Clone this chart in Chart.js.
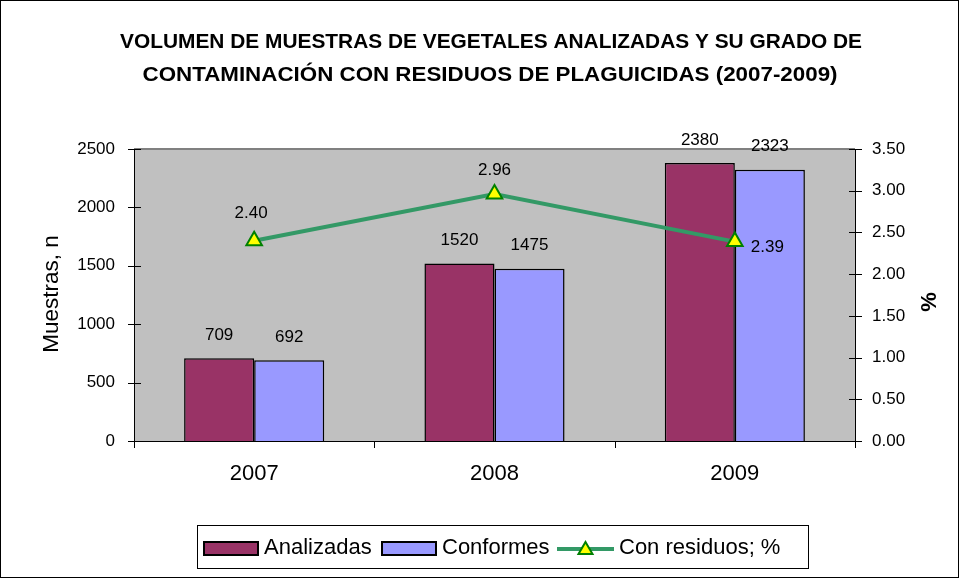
<!DOCTYPE html>
<html>
<head>
<meta charset="utf-8">
<script src="https://cdn.jsdelivr.net/npm/chart.js@4/dist/chart.umd.min.js"></script>
<style>
html,body{margin:0;padding:0;background:#fff;}
#wrap{width:960px;height:579px;position:relative;}
</style>
</head>
<body>
<div id="wrap"><canvas id="c" width="960" height="579"></canvas></div>
<script>
const categories = ['2007', '2008', '2009'];
const analizadas = [709, 1520, 2380];
const conformes = [692, 1475, 2323];
const conResiduos = [2.40, 2.96, 2.39];
const seriesNames = ['Analizadas', 'Conformes', 'Con residuos; %'];
const titleLines = ['VOLUMEN DE MUESTRAS DE VEGETALES ANALIZADAS Y SU GRADO DE', 'CONTAMINACIÓN CON RESIDUOS DE PLAGUICIDAS (2007-2009)'];
const leftAxisTitle = 'Muestras, n';
const rightAxisTitle = '%';

const FONT = '"Liberation Sans", Arial, sans-serif';
const COL_A = '#993366', COL_C = '#9999FF', COL_L = '#339966', COL_M = '#008000', COL_MF = '#FFFF00';

function fitText(ctx, text, cx, cy, targetW) {
  const w = ctx.measureText(text).width;
  const s = targetW / w;
  ctx.save();
  ctx.translate(cx, cy);
  ctx.scale(s, 1);
  ctx.fillText(text, 0, 0);
  ctx.restore();
}

const decor = {
  id: 'decor',
  beforeDraw(chart) {
    const ctx = chart.ctx, a = chart.chartArea;
    ctx.save();
    ctx.fillStyle = '#fff';
    ctx.fillRect(0, 0, chart.width, chart.height);
    ctx.fillStyle = '#C0C0C0';
    ctx.fillRect(a.left, a.top, a.right - a.left, a.bottom - a.top);
    ctx.strokeStyle = '#808080';
    ctx.lineWidth = 2;
    ctx.beginPath(); ctx.moveTo(a.left, a.top); ctx.lineTo(a.right, a.top); ctx.stroke();
    ctx.restore();
  },
  afterDraw(chart) {
    const ctx = chart.ctx, a = chart.chartArea;
    ctx.save();
    ctx.strokeStyle = '#000'; ctx.lineWidth = 1;
    ctx.beginPath();
    ctx.moveTo(a.left + 0.5, a.top); ctx.lineTo(a.left + 0.5, a.bottom + 0.5);
    ctx.lineTo(a.right + 0.5, a.bottom + 0.5);
    ctx.moveTo(a.right + 0.5, a.top); ctx.lineTo(a.right + 0.5, a.bottom + 0.5);
    const y = chart.scales.y, y1 = chart.scales.y1;
    y.ticks.forEach(t => { const p = Math.round(y.getPixelForValue(t.value)) + 0.5; ctx.moveTo(a.left - 6, p); ctx.lineTo(a.left + 7, p); });
    y1.ticks.forEach(t => { const p = Math.round(y1.getPixelForValue(t.value)) + 0.5; ctx.moveTo(a.right - 6, p); ctx.lineTo(a.right + 7, p); });
    const n = categories.length;
    for (let i = 0; i <= n; i++) {
      const p = Math.round(a.left + (a.right - a.left) * i / n) + 0.5;
      ctx.moveTo(p, a.bottom); ctx.lineTo(p, a.bottom + 7);
    }
    ctx.stroke();

    ctx.strokeRect(0.5, 0.5, chart.width - 2, chart.height - 2);

    // title
    ctx.fillStyle = '#000';
    ctx.font = 'bold 21px ' + FONT;
    ctx.textAlign = 'center'; ctx.textBaseline = 'middle';
    fitText(ctx, titleLines[0], 491, 42, 742);
    fitText(ctx, titleLines[1], 490, 75, 695);

    // axis titles
    ctx.save();
    ctx.translate(52, 294); ctx.rotate(-Math.PI / 2);
    ctx.font = '22.5px ' + FONT;
    ctx.fillText(leftAxisTitle, 0, 0);
    ctx.restore();
    ctx.save();
    ctx.translate(930, 302); ctx.rotate(-Math.PI / 2);
    ctx.font = 'bold 22px ' + FONT;
    ctx.fillText(rightAxisTitle, 0, 0);
    ctx.restore();

    // bar labels
    ctx.font = '17px ' + FONT;
    [0, 1].forEach(di => {
      const meta = chart.getDatasetMeta(di);
      meta.data.forEach((el, i) => {
        ctx.fillText(String(chart.data.datasets[di].data[i]), el.x, el.y - 23);
      });
    });
    // line labels
    const lm = chart.getDatasetMeta(2);
    lm.data.forEach((el, i) => {
      const v = conResiduos[i].toFixed(2);
      if (i === 2) { ctx.textAlign = 'left'; ctx.fillText(v, el.x + 16, el.y + 6); }
      else if (i === 0) { ctx.textAlign = 'center'; ctx.fillText(v, el.x - 3, el.y - 27); }
      else { ctx.textAlign = 'center'; ctx.fillText(v, el.x, el.y - 24); }
    });

    // legend
    ctx.textAlign = 'left';
    ctx.strokeStyle = '#000'; ctx.lineWidth = 1;
    ctx.strokeRect(197.5, 525.5, 611, 43);
    const ly = 548;
    ctx.font = '22px ' + FONT;
    ctx.fillStyle = COL_A; ctx.fillRect(204, ly - 6, 54, 13);
    ctx.strokeStyle = '#000'; ctx.lineWidth = 2; ctx.strokeRect(204, ly - 6, 54, 13);
    ctx.fillStyle = '#000'; ctx.fillText(seriesNames[0], 264, ly);
    ctx.fillStyle = COL_C; ctx.fillRect(382, ly - 6, 54, 13);
    ctx.strokeRect(382, ly - 6, 54, 13);
    ctx.fillStyle = '#000'; ctx.fillText(seriesNames[1], 442, ly);
    ctx.strokeStyle = COL_L; ctx.lineWidth = 4;
    ctx.beginPath(); ctx.moveTo(557, ly + 1); ctx.lineTo(614, ly + 1); ctx.stroke();
    ctx.fillStyle = COL_MF; ctx.strokeStyle = COL_M; ctx.lineWidth = 2;
    ctx.beginPath(); ctx.moveTo(585.5, ly - 6); ctx.lineTo(592.5, ly + 6); ctx.lineTo(578.5, ly + 6); ctx.closePath(); ctx.fill(); ctx.stroke();
    ctx.fillStyle = '#000'; ctx.fillText(seriesNames[2], 619, ly);
    ctx.restore();
  }
};

new Chart(document.getElementById('c'), {
  data: {
    labels: categories,
    datasets: [
      { type: 'bar', label: seriesNames[0], data: analizadas, backgroundColor: COL_A, borderColor: '#000', borderWidth: 1.5, yAxisID: 'y', order: 2, categoryPercentage: 0.583, barPercentage: 1.0 },
      { type: 'bar', label: seriesNames[1], data: conformes, backgroundColor: COL_C, borderColor: '#000', borderWidth: 1.5, yAxisID: 'y', order: 2, categoryPercentage: 0.583, barPercentage: 1.0 },
      { type: 'line', label: seriesNames[2], data: conResiduos, borderColor: COL_L, borderWidth: 4, pointStyle: 'triangle', pointRadius: 9, pointBackgroundColor: COL_MF, pointBorderColor: COL_M, pointBorderWidth: 2, yAxisID: 'y1', order: 0, tension: 0 }
    ]
  },
  options: {
    responsive: false, animation: false,
    layout: { padding: { top: 149, bottom: 98, left: 0, right: 0 } },
    plugins: { legend: { display: false }, title: { display: false }, tooltip: { enabled: false } },
    scales: {
      x: {
        grid: { display: false }, border: { display: false },
        ticks: { color: '#000', font: { family: FONT, size: 22 }, padding: 12 },
        afterFit(s) { s.height = 40; }
      },
      y: {
        position: 'left', min: 0, max: 2500,
        grid: { display: false }, border: { display: false },
        ticks: { stepSize: 500, color: '#000', font: { family: FONT, size: 17 }, padding: 11, callback: v => String(v) },
        afterFit(s) { s.width = 134; }
      },
      y1: {
        position: 'right', min: 0, max: 3.5,
        grid: { display: false }, border: { display: false },
        ticks: { stepSize: 0.5, color: '#000', font: { family: FONT, size: 17 }, padding: 9, callback: v => Number(v).toFixed(2) },
        afterFit(s) { s.width = 105; }
      }
    }
  },
  plugins: [decor]
});
</script>
</body>
</html>
